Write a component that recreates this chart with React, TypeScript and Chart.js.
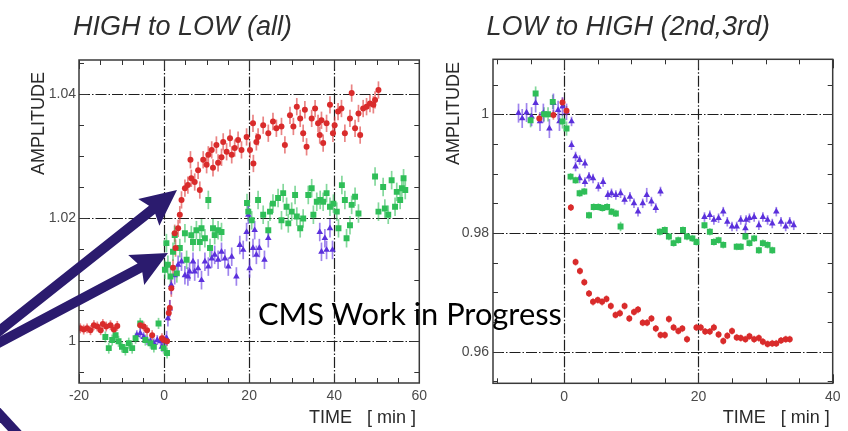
import React, { useEffect, useRef } from 'react';
import { Chart, registerables } from 'chart.js';

Chart.register(...registerables);

// [time (min), amplitude, error]
type Pt = [number, number, number];

// ---------------- LEFT: HIGH to LOW (all) ----------------
const L_RED: Pt[] = [
  [-19.7, 1.0021, 0.0008], [-18.9, 1.0019, 0.0008], [-18.1, 1.0021, 0.0008], [-17.3, 1.0018, 0.0008],
  [-16.5, 1.0026, 0.0008], [-15.7, 1.0024, 0.0008], [-14.9, 1.0018, 0.0008], [-14.4, 1.0028, 0.0008],
  [-13.6, 1.0024, 0.0008], [-12.6, 1.0026, 0.0008], [-11.8, 1.0019, 0.0008], [-11.0, 1.0025, 0.0008],
  [-5.6, 1.0026, 0.0008], [-4.8, 1.0024, 0.0008], [-4.0, 1.0018, 0.0008], [-2.8, 1.001, 0.0008],
  [-0.5, 1.0005, 0.0008], [-0.1, 1.0002, 0.0008], [0.7, 1.0, 0.0008],
  [1.1, 1.0046, 0.0013], [1.35, 1.0054, 0.0013], [1.7, 1.0086, 0.0014], [2.1, 1.0119, 0.0014],
  [2.5, 1.0175, 0.0014], [2.7, 1.0151, 0.0014], [3.3, 1.0183, 0.0014], [3.7, 1.0205, 0.0014],
  [4.1, 1.0229, 0.0014], [4.9, 1.0248, 0.0014], [5.6, 1.0253, 0.0014], [6.2, 1.0294, 0.0014],
  [6.4, 1.0264, 0.0014], [7.2, 1.0258, 0.0014], [8.0, 1.0277, 0.0014], [8.4, 1.0245, 0.0014],
  [9.2, 1.0294, 0.0014], [10.0, 1.0286, 0.0014], [10.4, 1.0302, 0.0014], [11.2, 1.031, 0.0014],
  [11.5, 1.0281, 0.0014], [12.3, 1.0318, 0.0014], [12.7, 1.0289, 0.0014], [13.5, 1.0298, 0.0014],
  [13.9, 1.0323, 0.0014], [14.7, 1.0307, 0.0014], [15.5, 1.0329, 0.0014], [15.9, 1.0302, 0.0014],
  [16.6, 1.0313, 0.0014], [17.4, 1.0326, 0.0014], [18.2, 1.031, 0.0014], [19.4, 1.0331, 0.0014],
  [20.2, 1.031, 0.0014], [20.9, 1.0353, 0.0014], [21.0, 1.0288, 0.0014], [21.7, 1.0323, 0.0014],
  [22.1, 1.0331, 0.0014], [23.3, 1.035, 0.0014], [24.5, 1.0337, 0.0014], [25.6, 1.0356, 0.0014],
  [26.4, 1.0345, 0.0014], [27.6, 1.0348, 0.0014], [28.4, 1.0318, 0.0014], [29.6, 1.0366, 0.0014],
  [30.4, 1.0348, 0.0014], [31.2, 1.038, 0.0014], [32.0, 1.0361, 0.0014], [32.7, 1.0337, 0.0014],
  [33.1, 1.0375, 0.0014], [33.5, 1.0315, 0.0014], [34.7, 1.0361, 0.0014], [35.5, 1.0377, 0.0014],
  [36.2, 1.0353, 0.0014], [36.6, 1.0334, 0.0014], [37.0, 1.0358, 0.0014], [37.4, 1.0321, 0.0014],
  [38.2, 1.0353, 0.0014], [39.0, 1.0383, 0.0014], [39.7, 1.0337, 0.0014], [40.1, 1.035, 0.0014],
  [40.9, 1.0372, 0.0014], [41.7, 1.0377, 0.0014], [42.5, 1.0337, 0.0014], [43.7, 1.0361, 0.0014],
  [44.1, 1.0402, 0.0014], [44.9, 1.0345, 0.0014], [45.7, 1.0369, 0.0014], [46.1, 1.0334, 0.0014],
  [46.8, 1.0377, 0.0014], [47.6, 1.038, 0.0014], [48.4, 1.0385, 0.0014], [49.2, 1.0383, 0.0014],
  [49.6, 1.0391, 0.0014], [50.4, 1.0407, 0.0014],
];

const L_GREEN: Pt[] = [
  [-13.8, 1.0007, 0.0009], [-13.0, 0.9989, 0.0009], [-12.2, 1.0002, 0.0009], [-11.4, 1.001, 0.0009],
  [-10.7, 1.0, 0.0009], [-9.9, 0.9991, 0.0009], [-9.1, 0.9986, 0.0009], [-8.3, 0.9997, 0.0009],
  [-7.5, 0.9989, 0.0009], [-6.7, 1.0005, 0.0009], [-5.6, 1.0029, 0.0009], [-4.4, 1.0002, 0.0009],
  [-3.2, 0.9997, 0.0009], [-2.4, 0.9991, 0.0009], [-1.3, 1.0029, 0.0009], [-0.1, 0.9989, 0.0009],
  [0.7, 0.9981, 0.0009],
  [0.2, 1.0116, 0.0015], [0.55, 1.0159, 0.0015], [0.9, 1.0124, 0.0015], [1.5, 1.0105, 0.0015],
  [2.1, 1.0145, 0.0015], [2.5, 1.0172, 0.0015], [3.0, 1.011, 0.0015], [3.7, 1.0151, 0.0015],
  [4.9, 1.0175, 0.0015], [5.3, 1.0132, 0.0015], [6.4, 1.0172, 0.0015], [6.8, 1.0161, 0.0015],
  [7.6, 1.018, 0.0015], [8.4, 1.0161, 0.0015], [8.8, 1.0183, 0.0015], [9.6, 1.0167, 0.0015],
  [10.4, 1.0229, 0.0015], [10.8, 1.0151, 0.0015], [11.5, 1.0183, 0.0015], [11.9, 1.0172, 0.0015],
  [12.7, 1.018, 0.0015], [13.5, 1.0177, 0.0015], [19.5, 1.0224, 0.0015], [19.8, 1.021, 0.0015],
  [20.6, 1.0196, 0.0015], [22.1, 1.0229, 0.0015], [23.3, 1.0205, 0.0015], [24.5, 1.018, 0.0015],
  [24.9, 1.021, 0.0015], [25.6, 1.0223, 0.0015], [26.8, 1.0232, 0.0015], [27.6, 1.0196, 0.0015],
  [28.0, 1.024, 0.0015], [28.8, 1.0218, 0.0015], [29.2, 1.0191, 0.0015], [30.0, 1.021, 0.0015],
  [30.8, 1.0237, 0.0015], [31.2, 1.0202, 0.0015], [32.0, 1.0183, 0.0015], [32.7, 1.0199, 0.0015],
  [33.9, 1.0237, 0.0015], [34.7, 1.0248, 0.0015], [35.1, 1.0205, 0.0015], [35.9, 1.0226, 0.0015],
  [36.7, 1.0229, 0.0015], [37.4, 1.0226, 0.0015], [38.2, 1.024, 0.0015], [39.0, 1.0218, 0.0015],
  [39.8, 1.0223, 0.0015], [40.6, 1.021, 0.0015], [41.0, 1.0183, 0.0015], [41.8, 1.0253, 0.0015],
  [42.5, 1.0229, 0.0015], [42.9, 1.0167, 0.0015], [43.7, 1.0188, 0.0015], [44.1, 1.0221, 0.0015],
  [44.9, 1.0234, 0.0015], [45.7, 1.0207, 0.0015], [49.6, 1.0267, 0.0015], [50.4, 1.021, 0.0015],
  [51.5, 1.025, 0.0015], [51.9, 1.0215, 0.0015], [52.7, 1.0205, 0.0015], [53.5, 1.0261, 0.0015],
  [54.3, 1.0218, 0.0015], [54.7, 1.0242, 0.0015], [55.5, 1.0229, 0.0015], [55.9, 1.0248, 0.0015],
  [56.3, 1.0264, 0.0015], [56.7, 1.0245, 0.0015],
];

const L_BLUE: Pt[] = [
  [-6.4, 1.001, 0.0008], [-5.6, 1.0013, 0.0008], [-4.8, 1.0007, 0.0008], [-4.0, 1.0002, 0.0008],
  [-3.2, 1.0, 0.0008], [-2.4, 0.9997, 0.0008], [-1.6, 1.0002, 0.0008], [-0.8, 1.0, 0.0008],
  [-0.5, 0.9991, 0.0008], [0.3, 1.0002, 0.0008],
  [0.6, 1.0005, 0.0012], [0.9, 1.0037, 0.0013], [1.35, 1.0053, 0.0014], [1.7, 1.0091, 0.0015],
  [2.5, 1.0107, 0.0015], [3.3, 1.0124, 0.0015], [4.1, 1.0129, 0.0015], [4.9, 1.0107, 0.0015],
  [5.6, 1.0105, 0.0015], [6.0, 1.0113, 0.0015], [6.8, 1.0129, 0.0015], [7.2, 1.0113, 0.0015],
  [8.0, 1.0118, 0.0015], [8.8, 1.0099, 0.0015], [9.6, 1.0129, 0.0015], [10.4, 1.0121, 0.0015],
  [11.2, 1.0134, 0.0015], [11.9, 1.014, 0.0015], [12.7, 1.0132, 0.0015], [13.5, 1.0145, 0.0015],
  [14.3, 1.0134, 0.0015], [15.1, 1.0121, 0.0015], [15.9, 1.0137, 0.0015], [17.0, 1.0105, 0.0015],
  [17.8, 1.0156, 0.0015], [18.6, 1.0148, 0.0015], [19.4, 1.0177, 0.0015], [19.8, 1.0205, 0.0015],
  [20.1, 1.0118, 0.0015], [20.9, 1.0151, 0.0015], [21.3, 1.018, 0.0015], [21.7, 1.014, 0.0015],
  [22.4, 1.0151, 0.0015], [23.6, 1.0132, 0.0015], [24.5, 1.0167, 0.0015],
  [36.6, 1.0177, 0.0015], [37.0, 1.0145, 0.0015], [37.8, 1.0167, 0.0015], [38.2, 1.0148, 0.0015],
  [39.0, 1.0183, 0.0015], [39.6, 1.0148, 0.0015],
];

// ---------------- RIGHT: LOW to HIGH (2nd,3rd) ----------------
const R_RED: Pt[] = [
  [-3.7, 0.9993, 0.0008], [-1.6, 0.9999, 0.0008], [-0.25, 1.002, 0.0008], [0.35, 1.0006, 0.0008],
  [1.0, 0.9843, 0.0006], [1.7, 0.9751, 0.0006], [2.35, 0.9736, 0.0006], [3.0, 0.9717, 0.0006],
  [3.7, 0.9698, 0.0006], [4.3, 0.9684, 0.0006], [5.0, 0.9687, 0.0006], [5.65, 0.9684, 0.0006],
  [6.3, 0.9689, 0.0006], [6.95, 0.9677, 0.0006], [7.65, 0.9662, 0.0006], [8.3, 0.9665, 0.0006],
  [9.0, 0.9677, 0.0006], [9.7, 0.9656, 0.0006], [10.4, 0.9667, 0.0006], [11.0, 0.9671, 0.0006],
  [11.7, 0.9649, 0.0006], [12.35, 0.9649, 0.0006], [13.0, 0.9656, 0.0006], [13.65, 0.9639, 0.0006],
  [14.35, 0.9628, 0.0006], [15.0, 0.9628, 0.0006], [15.6, 0.9655, 0.0006], [16.3, 0.9641, 0.0006],
  [17.0, 0.9635, 0.0006], [17.6, 0.9639, 0.0006], [18.3, 0.9621, 0.0006], [19.7, 0.9641, 0.0006],
  [20.35, 0.9641, 0.0006], [21.0, 0.9634, 0.0006], [21.7, 0.9634, 0.0006], [22.3, 0.9641, 0.0006],
  [23.0, 0.9629, 0.0006], [23.7, 0.9618, 0.0006], [24.3, 0.9627, 0.0006], [25.0, 0.9635, 0.0006],
  [25.7, 0.9624, 0.0006], [26.3, 0.9623, 0.0006], [27.0, 0.9621, 0.0006], [27.6, 0.9626, 0.0006],
  [28.3, 0.9621, 0.0006], [29.0, 0.9623, 0.0006], [29.6, 0.9617, 0.0006], [30.3, 0.9613, 0.0006],
  [31.0, 0.9614, 0.0006], [31.6, 0.9614, 0.0006], [32.3, 0.9619, 0.0006], [33.0, 0.9621, 0.0006],
  [33.6, 0.9621, 0.0006],
];

const R_GREEN: Pt[] = [
  [-5.0, 0.999, 0.0012], [-4.25, 1.0035, 0.0012], [-3.0, 1.0, 0.0012], [-2.4, 1.0, 0.0012],
  [-1.7, 1.0021, 0.0012], [-0.25, 0.9988, 0.0012], [0.35, 0.9976, 0.0012],
  [0.95, 0.9895, 0.0006], [1.7, 0.9889, 0.0006], [2.3, 0.9867, 0.0006], [3.0, 0.987, 0.0006],
  [3.7, 0.983, 0.0006], [4.4, 0.9844, 0.0006], [5.1, 0.9844, 0.0006], [5.7, 0.9842, 0.0006],
  [6.4, 0.9844, 0.0006], [7.05, 0.9836, 0.0006], [7.7, 0.9833, 0.0006], [8.4, 0.9811, 0.0008],
  [14.25, 0.9802, 0.0006], [14.99, 0.9805, 0.0006], [15.6, 0.9794, 0.0006], [16.3, 0.9783, 0.0006],
  [17.0, 0.9788, 0.0006], [17.7, 0.9805, 0.0006], [18.3, 0.9794, 0.0006], [19.1, 0.9791, 0.0006],
  [19.7, 0.9785, 0.0006], [20.9, 0.9813, 0.0006], [21.7, 0.9802, 0.0006], [22.3, 0.9785, 0.0006],
  [23.0, 0.9788, 0.0006], [23.7, 0.978, 0.0006], [25.7, 0.9777, 0.0006], [26.3, 0.9777, 0.0006],
  [27.0, 0.9794, 0.0006], [27.6, 0.9783, 0.0006], [28.3, 0.9791, 0.0006], [29.0, 0.9771, 0.0006],
  [29.6, 0.9783, 0.0006], [30.3, 0.978, 0.0006], [31.0, 0.9771, 0.0006],
];

const R_BLUE: Pt[] = [
  [-6.8, 1.0002, 0.0016], [-6.25, 0.9993, 0.0016], [-5.6, 1.0003, 0.0016], [-4.85, 0.9996, 0.0016],
  [-4.25, 1.0019, 0.0016], [-3.6, 0.9988, 0.0016], [-3.1, 1.0002, 0.0016], [-2.2, 0.9976, 0.0016],
  [-1.6, 1.0019, 0.0016], [-0.9, 1.0007, 0.0016], [-0.7, 0.9988, 0.0016], [-0.25, 1.0013, 0.0016],
  [0.35, 1.0004, 0.0014], [1.1, 0.9988, 0.0008],
  [1.1, 0.9948, 0.0008], [1.7, 0.9929, 0.0008], [1.7, 0.9912, 0.0008], [2.3, 0.9923, 0.0008],
  [2.3, 0.9892, 0.0008], [3.1, 0.9917, 0.0008], [3.1, 0.9886, 0.0008], [3.7, 0.9895, 0.0008],
  [4.3, 0.9892, 0.0008], [5.1, 0.9878, 0.0008], [5.8, 0.9886, 0.0008], [6.5, 0.9864, 0.0008],
  [7.05, 0.9867, 0.0008], [7.7, 0.9864, 0.0008], [8.4, 0.9867, 0.0008], [9.0, 0.9856, 0.0008],
  [9.8, 0.9861, 0.0008], [10.4, 0.985, 0.0008], [11.0, 0.9836, 0.0008], [11.7, 0.985, 0.0008],
  [12.3, 0.9864, 0.0012], [13.0, 0.9853, 0.0008], [13.65, 0.9842, 0.0008], [14.35, 0.987, 0.0008],
  [20.9, 0.9827, 0.0008], [21.7, 0.983, 0.0008], [22.3, 0.9822, 0.0008], [23.0, 0.9825, 0.0008],
  [23.7, 0.9836, 0.0008], [24.3, 0.9819, 0.0008], [25.0, 0.9811, 0.0008], [25.7, 0.9811, 0.0008],
  [26.3, 0.9822, 0.0008], [27.0, 0.9808, 0.0008], [27.1, 0.9822, 0.0008], [27.6, 0.9825, 0.0008],
  [28.3, 0.9827, 0.0008], [29.0, 0.9813, 0.0008], [29.6, 0.9827, 0.0008], [30.3, 0.9822, 0.0008],
  [31.0, 0.9816, 0.0008], [31.6, 0.9836, 0.0008], [32.3, 0.9819, 0.0008], [33.0, 0.9811, 0.0008],
  [33.6, 0.9819, 0.0008], [34.2, 0.9813, 0.0008],
];

// axes
const L_X_RANGE = [-20, 60];
const L_Y_RANGE = [0.99325, 1.04556];
const L_X_TICKS = [-20, 0, 20, 40, 60];
const L_Y_TICKS = [1, 1.02, 1.04];
const L_X_GRID = [0, 20, 40];
const L_Y_GRID = [1, 1.02, 1.04];

const R_X_RANGE = [-10.6, 40];
const R_Y_RANGE = [0.95468, 1.00927];
const R_X_TICKS = [0, 20, 40];
const R_Y_TICKS = [0.96, 0.98, 1];
const R_X_GRID = [0, 20];
const R_Y_GRID = [0.96, 0.98, 1];

const X_MINOR = 5;
const Y_MINOR = 0.005;

const RED = '#d92b2b';
const GREEN = '#2fbe58';
const BLUE = '#5b30dc';
const ARROW = '#2b1b6e';

const rootFrame = {
  id: 'rootFrame',
  beforeDatasetsDraw(chart: any) {
    const o = chart.options.plugins.rootFrame;
    const { ctx, chartArea: a } = chart;
    const xs = chart.scales.x;
    const ys = chart.scales.y;
    ctx.save();
    ctx.strokeStyle = '#1e1e1e';
    ctx.lineWidth = 1.2;
    ctx.setLineDash([11, 2, 1.5, 2]);
    for (const v of o.xGrid) {
      const p = Math.round(xs.getPixelForValue(v)) + 0.5;
      ctx.beginPath(); ctx.moveTo(p, a.top); ctx.lineTo(p, a.bottom); ctx.stroke();
    }
    for (const v of o.yGrid) {
      const p = Math.round(ys.getPixelForValue(v)) + 0.5;
      ctx.beginPath(); ctx.moveTo(a.left, p); ctx.lineTo(a.right, p); ctx.stroke();
    }
    ctx.setLineDash([]);
    // error bars
    chart.data.datasets.forEach((ds: any, i: number) => {
      const meta = chart.getDatasetMeta(i);
      ctx.strokeStyle = ds.errorColor;
      ctx.lineWidth = 1.7;
      ds.data.forEach((p: any, j: number) => {
        const el = meta.data[j];
        const y1 = ys.getPixelForValue(p.y + p.e);
        const y2 = ys.getPixelForValue(p.y - p.e);
        ctx.beginPath(); ctx.moveTo(el.x, y1); ctx.lineTo(el.x, y2); ctx.stroke();
      });
    });
    ctx.restore();
  },
  afterDraw(chart: any) {
    const { ctx, chartArea: a } = chart;
    const xs = chart.scales.x;
    const ys = chart.scales.y;
    ctx.save();
    ctx.strokeStyle = '#333';
    ctx.lineWidth = 1;
    const xStart = Math.ceil(xs.min / X_MINOR) * X_MINOR;
    for (let v = xStart; v <= xs.max + 1e-9; v += X_MINOR) {
      const p = Math.round(xs.getPixelForValue(v)) + 0.5;
      const len = Math.abs(v % 20) < 1e-9 ? 9 : 5;
      ctx.beginPath();
      ctx.moveTo(p, a.top); ctx.lineTo(p, a.top + len);
      ctx.moveTo(p, a.bottom); ctx.lineTo(p, a.bottom - len);
      ctx.stroke();
    }
    const yStart = Math.ceil(ys.min / Y_MINOR - 1e-6) * Y_MINOR;
    for (let v = yStart; v <= ys.max + 1e-9; v += Y_MINOR) {
      const p = Math.round(ys.getPixelForValue(v)) + 0.5;
      const r = Math.round(v * 1000) % 20;
      const len = r === 0 ? 9 : 5;
      ctx.beginPath();
      ctx.moveTo(a.left, p); ctx.lineTo(a.left + len, p);
      ctx.moveTo(a.right, p); ctx.lineTo(a.right - len, p);
      ctx.stroke();
    }
    ctx.strokeStyle = '#3a3a3a';
    ctx.lineWidth = 1.5;
    ctx.strokeRect(a.left, a.top, a.right - a.left, a.bottom - a.top);
    ctx.restore();
  },
};

const toData = (pts: Pt[]) => pts.map(([x, y, e]) => ({ x, y, e }));

const mkDatasets = (red: Pt[], green: Pt[], blue: Pt[]) => [
  {
    label: 'red', data: toData(red), pointStyle: 'circle', pointRadius: 3,
    backgroundColor: RED, borderColor: RED, borderWidth: 0, errorColor: 'rgba(220,50,50,0.6)',
  },
  {
    label: 'green', data: toData(green), pointStyle: 'rect', pointRadius: 4.2,
    backgroundColor: GREEN, borderColor: GREEN, borderWidth: 0, errorColor: 'rgba(50,190,90,0.6)',
  },
  {
    label: 'blue', data: toData(blue), pointStyle: 'triangle', pointRadius: 3.8,
    backgroundColor: BLUE, borderColor: BLUE, borderWidth: 0, errorColor: 'rgba(95,50,225,0.6)',
  },
];

const tickFont = { family: 'Liberation Sans', size: 14 };

function makeConfig(p: any) {
  return {
    type: 'scatter',
    data: { datasets: mkDatasets(p.red, p.green, p.blue) },
    options: {
      animation: false,
      responsive: false,
      events: [],
      layout: { padding: p.padding },
      plugins: {
        legend: { display: false },
        tooltip: { enabled: false },
        rootFrame: { xGrid: p.xGrid, yGrid: p.yGrid },
      },
      scales: {
        x: {
          type: 'linear', min: p.xRange[0], max: p.xRange[1],
          afterBuildTicks: (s: any) => { s.ticks = p.xTicks.map((value: number) => ({ value })); },
          afterFit: (s: any) => { s.height = 25; },
          grid: { display: false, drawTicks: false },
          border: { display: false },
          ticks: { font: tickFont, color: '#4a4a4a', padding: 5, maxRotation: 0, autoSkip: false,
            callback: (v: any) => String(v) },
        },
        y: {
          type: 'linear', min: p.yRange[0], max: p.yRange[1],
          afterBuildTicks: (s: any) => { s.ticks = p.yTicks.map((value: number) => ({ value })); },
          afterFit: (s: any) => { s.width = 40; },
          grid: { display: false, drawTicks: false },
          border: { display: false },
          ticks: { font: tickFont, color: '#4a4a4a', padding: p.yPad, autoSkip: false,
            callback: (v: any) => String(Number(Number(v).toFixed(3))) },
        },
      },
    },
    plugins: [rootFrame],
  };
}

function ChartCanvas({ cfg }: { cfg: any }) {
  const ref = useRef<HTMLCanvasElement | null>(null);
  useEffect(() => {
    if (!ref.current) return;
    const chart = new Chart(ref.current, makeConfig(cfg) as any);
    return () => chart.destroy();
  }, []);
  return (
    <canvas ref={ref} width={848} height={431}
      style={{ position: 'absolute', left: 0, top: 0, width: 848, height: 431 }} />
  );
}

function arrowPoints(tail: number[], tip: number[], sw: number, hl: number, hw: number, notch: number) {
  const dx = tip[0] - tail[0], dy = tip[1] - tail[1];
  const L = Math.hypot(dx, dy);
  const ux = dx / L, uy = dy / L;
  const nx = -uy, ny = ux;
  const bx = tip[0] - ux * hl, by = tip[1] - uy * hl;
  const kx = tip[0] - ux * (hl - notch * 0.6), ky = tip[1] - uy * (hl - notch * 0.6);
  const h = sw / 2;
  const pts = [
    [tail[0] + nx * h, tail[1] + ny * h],
    [kx + nx * h, ky + ny * h],
    [bx + nx * hw, by + ny * hw],
    [tip[0], tip[1]],
    [bx - nx * hw, by - ny * hw],
    [kx - nx * h, ky - ny * h],
    [tail[0] - nx * h, tail[1] - ny * h],
  ];
  return pts.map((q) => `${q[0].toFixed(1)},${q[1].toFixed(1)}`).join(' ');
}

const LEFT_CFG = {
  red: L_RED, green: L_GREEN, blue: L_BLUE,
  xRange: L_X_RANGE, yRange: L_Y_RANGE, xTicks: L_X_TICKS, yTicks: L_Y_TICKS,
  xGrid: L_X_GRID, yGrid: L_Y_GRID,
  padding: { left: 39, top: 60, right: 428.7, bottom: 23 }, yPad: 3,
};
const RIGHT_CFG = {
  red: R_RED, green: R_GREEN, blue: R_BLUE,
  xRange: R_X_RANGE, yRange: R_Y_RANGE, xTicks: R_X_TICKS, yTicks: R_Y_TICKS,
  xGrid: R_X_GRID, yGrid: R_Y_GRID,
  padding: { left: 453, top: 59.3, right: 15.3, bottom: 22.7 }, yPad: 4,
};

const titleStyle: React.CSSProperties = {
  position: 'absolute', top: 13, fontFamily: 'Liberation Sans', fontStyle: 'italic',
  fontSize: 27, lineHeight: '27px', color: '#2e2e2e', whiteSpace: 'nowrap',
};
const axisStyle: React.CSSProperties = {
  position: 'absolute', fontFamily: 'Liberation Sans', fontSize: 18, lineHeight: '18px',
  color: '#2a2a2a', whiteSpace: 'pre',
};

export default function App() {
  return (
    <div style={{ position: 'absolute', left: 0, top: 0, width: 848, height: 431, background: '#fff', overflow: 'hidden' }}>
      <ChartCanvas cfg={LEFT_CFG} />
      <ChartCanvas cfg={RIGHT_CFG} />
      <div style={{ ...titleStyle, left: 73 }}>HIGH to LOW (all)</div>
      <div style={{ ...titleStyle, left: 486.5 }}>LOW to HIGH (2nd,3rd)</div>
      <div style={{ ...axisStyle, left: 29.2, top: 175, transformOrigin: '0 0', transform: 'rotate(-90deg)' }}>AMPLITUDE</div>
      <div style={{ ...axisStyle, left: 443.7, top: 165, transformOrigin: '0 0', transform: 'rotate(-90deg)' }}>AMPLITUDE</div>
      <div style={{ ...axisStyle, left: 309, top: 407.5 }}>{'TIME   [ min ]'}</div>
      <div style={{ ...axisStyle, left: 722.7, top: 407.5 }}>{'TIME   [ min ]'}</div>
      <div style={{ position: 'absolute', left: 258, top: 299, fontFamily: 'Lato', fontSize: 30.8, lineHeight: '30px', color: '#000', whiteSpace: 'nowrap' }}>
        CMS Work in Progress
      </div>
      <svg width={848} height={431} style={{ position: 'absolute', left: 0, top: 0 }}>
        <polygon fill={ARROW} points={arrowPoints([-45, 366], [177, 190], 10, 36, 17, 7)} />
        <polygon fill={ARROW} points={arrowPoints([-45, 366], [168, 253], 10, 36, 17, 7)} />
        <line x1={-45} y1={366} x2={60} y2={480} stroke={ARROW} strokeWidth={10} />
      </svg>
    </div>
  );
}
